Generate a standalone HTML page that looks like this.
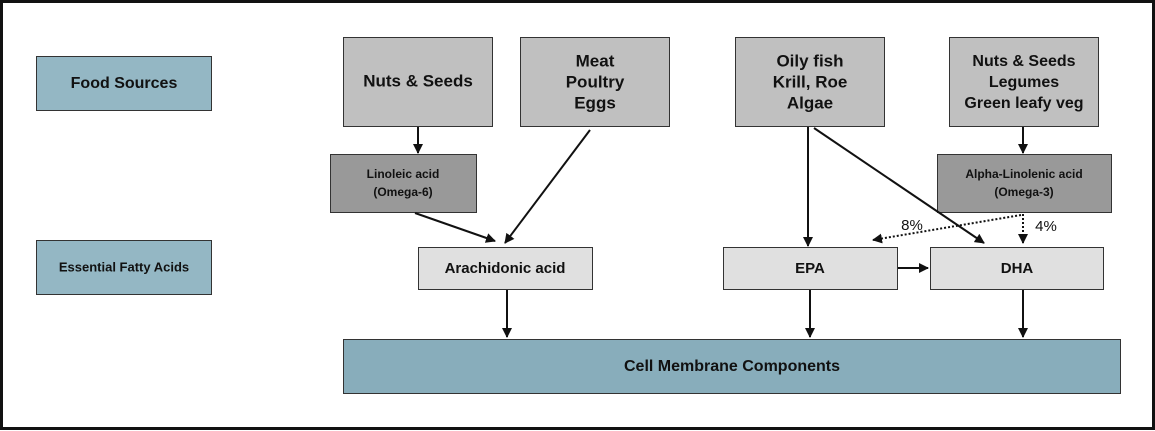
<!DOCTYPE html>
<html><head><meta charset="utf-8"><style>
html,body{margin:0;padding:0;background:#fff}
svg{display:block}
text{font-family:"Liberation Sans",Arial,sans-serif;font-weight:bold;fill:#111;text-anchor:middle;dominant-baseline:middle}
</style></head><body>
<svg width="1155" height="431" viewBox="0 0 1155 431" xmlns="http://www.w3.org/2000/svg">
<defs>
<marker id="a" markerWidth="10" markerHeight="10" refX="9" refY="5" orient="auto" markerUnits="userSpaceOnUse">
<path d="M0,0 L10,5 L0,10 z" fill="#111"/></marker>
</defs>
<rect x="1.5" y="1.5" width="1152" height="427" fill="#fff" stroke="#111" stroke-width="3"/>
<g stroke="#333" stroke-width="1">
<rect x="36.5" y="56.5" width="175" height="54" fill="#94b7c4"/>
<rect x="36.5" y="240.5" width="175" height="54" fill="#94b7c4"/>
<rect x="343.5" y="37.5" width="149" height="89" fill="#c0c0c0"/>
<rect x="520.5" y="37.5" width="149" height="89" fill="#c0c0c0"/>
<rect x="735.5" y="37.5" width="149" height="89" fill="#c0c0c0"/>
<rect x="949.5" y="37.5" width="149" height="89" fill="#c0c0c0"/>
<rect x="330.5" y="154.5" width="146" height="58" fill="#999"/>
<rect x="937.5" y="154.5" width="174" height="58" fill="#999"/>
<rect x="418.5" y="247.5" width="174" height="42" fill="#e0e0e0"/>
<rect x="723.5" y="247.5" width="174" height="42" fill="#e0e0e0"/>
<rect x="930.5" y="247.5" width="173" height="42" fill="#e0e0e0"/>
<rect x="343.5" y="339.5" width="777" height="54" fill="#88adbb"/>
</g>
<text x="124" y="84" font-size="16">Food Sources</text>
<text x="124" y="268" font-size="13">Essential Fatty Acids</text>
<text x="418" y="82" font-size="17">Nuts &amp; Seeds</text>
<text x="595" y="62" font-size="17">Meat</text>
<text x="595" y="83" font-size="17">Poultry</text>
<text x="595" y="104" font-size="17">Eggs</text>
<text x="810" y="62" font-size="17">Oily fish</text>
<text x="810" y="83" font-size="17">Krill, Roe</text>
<text x="810" y="104" font-size="17">Algae</text>
<text x="1024" y="62" font-size="16">Nuts &amp; Seeds</text>
<text x="1024" y="83" font-size="16">Legumes</text>
<text x="1024" y="104" font-size="16">Green leafy veg</text>
<text x="403" y="175" font-size="12">Linoleic acid</text>
<text x="403" y="193" font-size="12">(Omega-6)</text>
<text x="1024" y="175" font-size="12">Alpha-Linolenic acid</text>
<text x="1024" y="193" font-size="12">(Omega-3)</text>
<text x="505" y="269" font-size="15">Arachidonic acid</text>
<text x="810" y="269" font-size="15">EPA</text>
<text x="1017" y="269" font-size="15">DHA</text>
<text x="732" y="367" font-size="16">Cell Membrane Components</text>
<text x="912" y="226" font-size="15" font-weight="normal" style="font-weight:normal">8%</text>
<text x="1046" y="227" font-size="15" style="font-weight:normal">4%</text>
<g stroke="#111" stroke-width="2" fill="none" marker-end="url(#a)">
<line x1="418" y1="127" x2="418" y2="153"/>
<line x1="1023" y1="127" x2="1023" y2="153"/>
<line x1="415" y1="213" x2="495" y2="241"/>
<line x1="590" y1="130" x2="505" y2="243"/>
<line x1="808" y1="127" x2="808" y2="246"/>
<line x1="814" y1="128" x2="984" y2="243"/>
<line x1="898" y1="268" x2="928" y2="268"/>
<line x1="507" y1="290" x2="507" y2="337"/>
<line x1="810" y1="290" x2="810" y2="337"/>
<line x1="1023" y1="290" x2="1023" y2="337"/>
<line x1="1023" y1="214" x2="1023" y2="243" stroke-dasharray="2,2"/>
<line x1="1021" y1="215" x2="873" y2="240" stroke-dasharray="2,2"/>
</g>
</svg>
</body></html>
